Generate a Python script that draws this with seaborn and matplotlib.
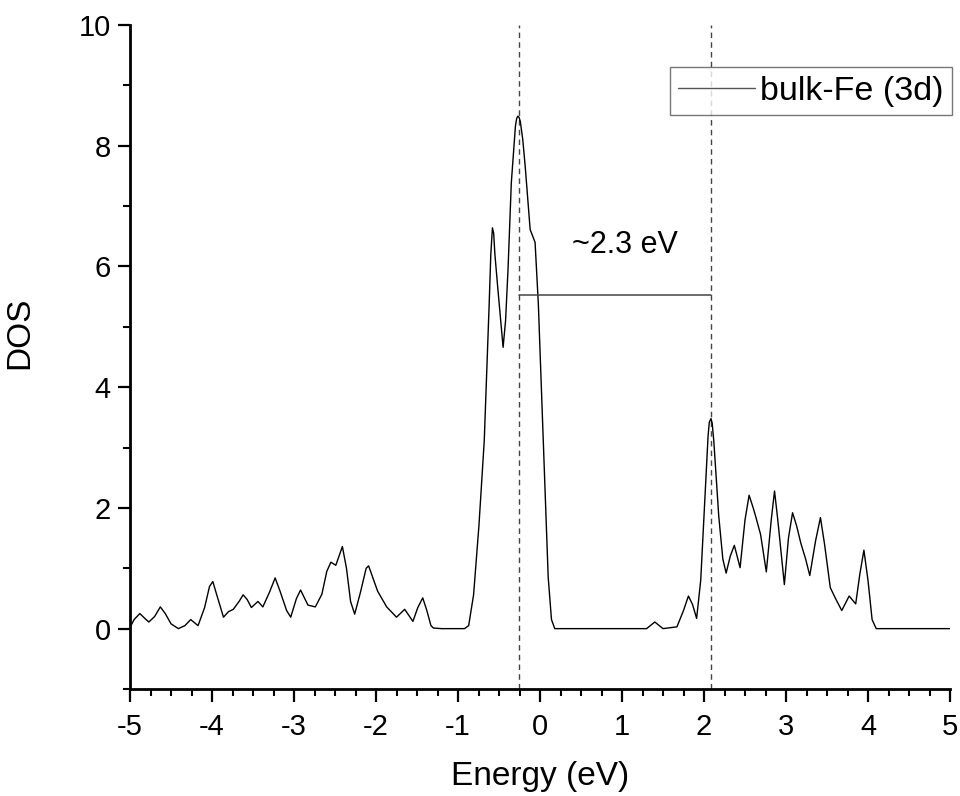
import numpy as np
import pandas as pd
import matplotlib
matplotlib.use('Agg')
import matplotlib.pyplot as plt
import seaborn as sns
from matplotlib.ticker import MultipleLocator

# Energy (eV) and DOS
energy = [
    -5.00, -4.95, -4.88, -4.82, -4.77, -4.70, -4.63, -4.57, -4.50, -4.41,
    -4.33, -4.26, -4.17, -4.09, -4.03, -3.99, -3.94, -3.86, -3.80, -3.74,
    -3.67, -3.62, -3.57, -3.52, -3.44, -3.38, -3.30, -3.23, -3.17, -3.09,
    -3.04, -2.97, -2.92, -2.87, -2.83, -2.74, -2.66, -2.60, -2.55, -2.49,
    -2.41, -2.36, -2.31, -2.26, -2.19, -2.12, -2.09, -2.04, -1.98, -1.87,
    -1.75, -1.65, -1.55, -1.49, -1.43, -1.38, -1.33, -1.30, -1.20, -0.92,
    -0.87, -0.81, -0.745, -0.68, -0.62, -0.60, -0.58, -0.565, -0.55, -0.516,
    -0.45, -0.42, -0.39, -0.35, -0.32, -0.30, -0.285, -0.27, -0.255, -0.24,
    -0.21, -0.18, -0.12, -0.08, -0.06, -0.02, 0.04, 0.10, 0.14, 0.18,
    1.30, 1.40, 1.50, 1.67, 1.75, 1.81, 1.86, 1.91, 1.96, 2.00,
    2.05, 2.065, 2.085, 2.10, 2.12, 2.18, 2.23, 2.27, 2.32, 2.37,
    2.44, 2.50, 2.55, 2.60, 2.63, 2.69, 2.76, 2.82, 2.86, 2.90,
    2.98, 3.03, 3.08, 3.13, 3.18, 3.24, 3.29, 3.36, 3.42, 3.47,
    3.54, 3.60, 3.68, 3.77, 3.85, 3.90, 3.95, 4.00, 4.05, 4.10,
    5.00,
]
dos = [
    0.02, 0.15, 0.25, 0.17, 0.11, 0.20, 0.36, 0.25, 0.08, 0.00,
    0.05, 0.15, 0.05, 0.35, 0.70, 0.78, 0.55, 0.19, 0.28, 0.32,
    0.45, 0.56, 0.48, 0.35, 0.45, 0.36, 0.60, 0.84, 0.62, 0.30,
    0.19, 0.50, 0.64, 0.50, 0.39, 0.36, 0.57, 0.95, 1.10, 1.05,
    1.36, 1.00, 0.45, 0.24, 0.60, 1.00, 1.04, 0.85, 0.62, 0.36,
    0.19, 0.32, 0.12, 0.35, 0.51, 0.30, 0.05, 0.01, 0.00, 0.00,
    0.05, 0.56, 1.70, 3.11, 5.37, 6.20, 6.64, 6.55, 6.20, 5.66,
    4.66, 5.10, 5.95, 7.38, 7.95, 8.32, 8.45, 8.49, 8.47, 8.40,
    8.10, 7.65, 6.61, 6.47, 6.40, 5.37, 3.11, 0.85, 0.15, 0.00,
    0.00, 0.11, 0.00, 0.03, 0.30, 0.54, 0.40, 0.17, 0.80, 1.86,
    3.20, 3.42, 3.48, 3.40, 3.10, 1.86, 1.15, 0.92, 1.20, 1.38,
    1.01, 1.80, 2.21, 2.00, 1.86, 1.56, 0.94, 1.80, 2.28, 1.80,
    0.73, 1.50, 1.92, 1.70, 1.42, 1.15, 0.88, 1.45, 1.84, 1.40,
    0.68, 0.51, 0.30, 0.54, 0.41, 0.90, 1.30, 0.80, 0.15, 0.00,
    0.00,
]

# band edges and gap marker
edges = [-0.26, 2.09]
gap_level = 5.53
gap_text = '~2.3 eV'

df = pd.DataFrame({'Energy': energy, 'DOS': dos})

sns.set_theme(style='ticks')
plt.rcParams['font.family'] = ['Liberation Sans', 'DejaVu Sans']
plt.rcParams['text.color'] = 'black'
plt.rcParams['axes.labelcolor'] = 'black'
plt.rcParams['xtick.color'] = 'black'
plt.rcParams['ytick.color'] = 'black'

fig = plt.figure(figsize=(9.6, 7.96), dpi=100)
ax = fig.add_axes([130 / 960, 1 - 689 / 796, 820 / 960, 664 / 796])

sns.lineplot(data=df, x='Energy', y='DOS', ax=ax, color='black', lw=1.0,
             sort=False, estimator=None, label='bulk-Fe (3d)')

for e in edges:
    ax.axvline(e, color='#444444', lw=1.0, ls=(0, (4, 3)), zorder=1)
ax.plot(edges, [gap_level, gap_level], color='#444444', lw=1.1)
ax.text(1.03, 6.35, gap_text, fontsize=22, ha='center', va='center')

ax.set_xlim(-5, 5)
ax.set_ylim(-1, 10)
ax.xaxis.set_major_locator(MultipleLocator(1))
ax.xaxis.set_minor_locator(MultipleLocator(0.25))
ax.yaxis.set_major_locator(MultipleLocator(2))
ax.yaxis.set_minor_locator(MultipleLocator(1))
ax.set_xticks(range(-5, 6))
ax.set_xticklabels([str(v) for v in range(-5, 6)])
ax.set_yticks(range(0, 11, 2))
ax.set_yticklabels([str(v) for v in range(0, 11, 2)])

for s in ['top', 'right']:
    ax.spines[s].set_visible(False)
for s in ['left', 'bottom']:
    ax.spines[s].set_linewidth(2.0)
    ax.spines[s].set_color('black')

ax.tick_params(which='major', direction='out', length=9, width=1.6,
               labelsize=21, color='black')
ax.tick_params(axis='x', which='major', pad=8)
ax.tick_params(axis='y', which='major', pad=5)
ax.tick_params(which='minor', direction='out', length=5, width=1.5,
               color='black')

ax.set_xlabel('Energy (eV)', fontsize=24)
ax.xaxis.set_label_coords(0.5, -0.108)
ax.set_ylabel('DOS', fontsize=24)
ax.yaxis.set_label_coords(-0.116, 0.536)

leg = ax.legend(loc='upper right', bbox_to_anchor=(1.0024, 0.9367),
                borderaxespad=0, fontsize=24.5, frameon=True, fancybox=False,
                handlelength=2.25, borderpad=0.25, handletextpad=0.15)
leg.get_frame().set_edgecolor('#555555')
leg.get_frame().set_linewidth(1.0)
for h in leg.get_lines():
    h.set_color('#555555')

fig.savefig('out.png', dpi=100)
